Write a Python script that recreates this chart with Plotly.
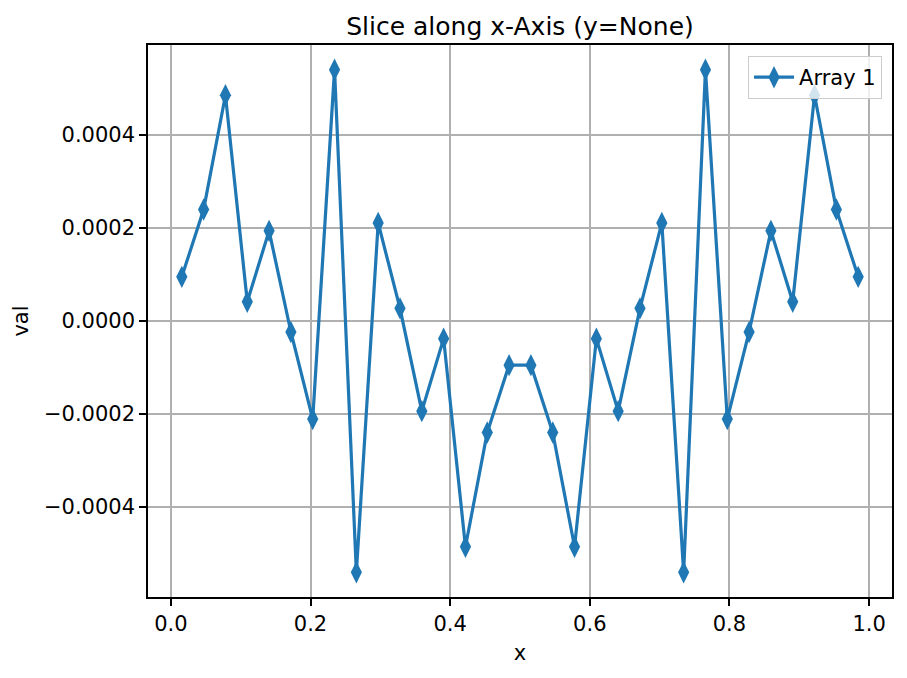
import plotly.graph_objects as go

x_vals = [0.015625, 0.046875, 0.078125, 0.109375, 0.140625, 0.171875, 0.203125, 0.234375,
          0.265625, 0.296875, 0.328125, 0.359375, 0.390625, 0.421875, 0.453125, 0.484375,
          0.515625, 0.546875, 0.578125, 0.609375, 0.640625, 0.671875, 0.703125, 0.734375,
          0.765625, 0.796875, 0.828125, 0.859375, 0.890625, 0.921875, 0.953125, 0.984375]
array1 = [0.000095, 0.000240, 0.000486, 0.0000415, 0.000194, -0.0000236, -0.000211, 0.000541,
          -0.000541, 0.000211, 0.0000272, -0.000194, -0.000038, -0.000486, -0.000240, -0.000095,
          -0.000095, -0.000240, -0.000486, -0.000038, -0.000194, 0.0000272, 0.000211, -0.000541,
          0.000541, -0.000211, -0.0000236, 0.000194, 0.0000415, 0.000486, 0.000240, 0.000095]

x_ticks = [0.0, 0.2, 0.4, 0.6, 0.8, 1.0]
x_ticktext = ["0.0", "0.2", "0.4", "0.6", "0.8", "1.0"]
y_ticks = [-0.0004, -0.0002, 0.0, 0.0002, 0.0004]
y_ticktext = ["\u22120.0004", "\u22120.0002", "0.0000", "0.0002", "0.0004"]

FONT = "DejaVu Sans"
BLUE = "#1f77b4"

fig = go.Figure()
fig.add_trace(go.Scatter(
    x=x_vals, y=array1, mode="lines+markers", name="Array 1",
    line=dict(color=BLUE, width=3.2),
    marker=dict(symbol="diamond-tall", size=16, color=BLUE),
))

axis_common = dict(
    showline=True, linecolor="black", linewidth=1.6, mirror=True,
    ticks="outside", ticklen=7, tickwidth=1.6, tickcolor="black",
    showgrid=True, gridcolor="#b0b0b0", gridwidth=1.6,
    zeroline=False,
    tickfont=dict(family=FONT, size=21, color="black"),
)

fig.update_layout(
    width=907, height=678,
    margin=dict(l=148, r=15, t=45, b=81),
    paper_bgcolor="white", plot_bgcolor="white",
    font=dict(family=FONT, color="black"),
    title=dict(text="Slice along x-Axis (y=None)", x=(148 + 892) / 2 / 907, xanchor="center",
               y=1 - 26 / 678, yanchor="middle",
               font=dict(family=FONT, size=25, color="black")),
    xaxis=dict(range=[-0.0328, 1.0328], tickvals=x_ticks, ticktext=x_ticktext,
               title=dict(text="x", font=dict(family=FONT, size=21), standoff=10),
               **axis_common),
    yaxis=dict(range=[-0.000594, 0.000594], tickvals=y_ticks, ticktext=y_ticktext,
               title=dict(text="val", font=dict(family=FONT, size=21), standoff=10),
               **axis_common),
    showlegend=True,
    legend=dict(x=0.9866, y=0.98, xanchor="right", yanchor="top",
                bgcolor="rgba(255,255,255,0.8)", bordercolor="#cccccc", borderwidth=1,
                itemwidth=40,
                font=dict(family=FONT, size=21, color="black")),
)

fig.write_html("out.html", config={"displayModeBar": False},
               post_script="document.body.style.margin='0';")
